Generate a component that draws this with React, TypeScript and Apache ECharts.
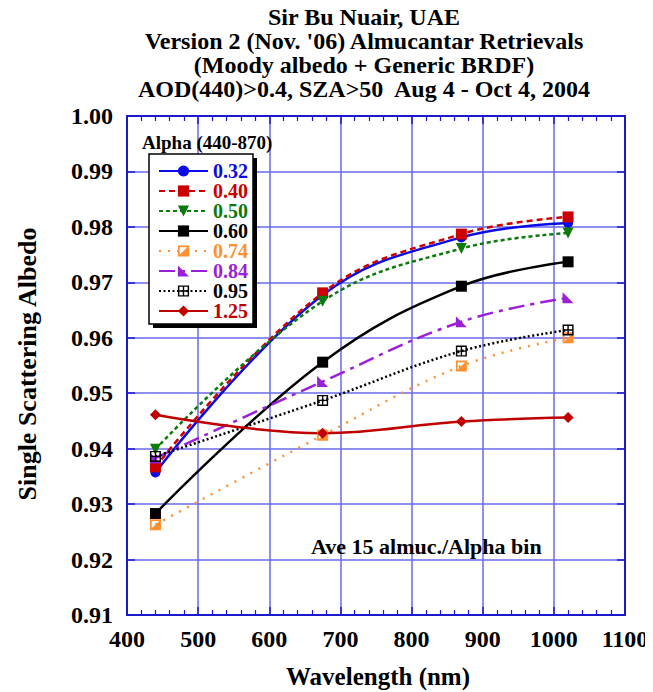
import React, { useEffect, useRef } from "react";
import * as echarts from "echarts";

const wavelengths = [440, 675, 870, 1020];
const alphaNames = ["0.32", "0.40", "0.50", "0.60", "0.74", "0.84", "0.95", "1.25"];
const ssa032 = [0.9357, 0.9677, 0.9781, 0.9807];
const ssa040 = [0.9367, 0.9681, 0.9787, 0.9818];
const ssa050 = [0.9399, 0.9666, 0.9761, 0.9789];
const ssa060 = [0.9283, 0.9556, 0.9693, 0.9737];
const ssa074 = [0.9263, 0.9424, 0.9549, 0.96];
const ssa084 = [0.9383, 0.9521, 0.9629, 0.9672];
const ssa095 = [0.9386, 0.9487, 0.9576, 0.9614];
const ssa125 = [0.9461, 0.9428, 0.9449, 0.9456];
const xTicks = [400, 500, 600, 700, 800, 900, 1000, 1100];
const yTicks = [0.91, 0.92, 0.93, 0.94, 0.95, 0.96, 0.97, 0.98, 0.99, 1.0];

const FONT = "Liberation Serif";

const halfSquare =
  "path://M0,0 L10,0 L10,10 L0,10 Z M1.6,1.6 L1.6,8.4 L8.4,8.4 L8.4,1.6 Z M8.4,1.6 L8.4,8.4 L1.6,8.4 Z";
const crossSquare =
  "path://M0,0 L10,0 L10,10 L0,10 Z M1.3,1.3 L1.3,8.7 L8.7,8.7 L8.7,1.3 Z M4.4,1 L5.6,1 L5.6,9 L4.4,9 Z M1,4.4 L9,4.4 L9,5.6 L1,5.6 Z";
const cornerTri = "path://M0,0 L10,10 L0,10 Z";

const seriesDefs = [
  { name: alphaNames[0], data: ssa032, color: "#0a0ae6", type: "solid", symbol: "circle", size: 10 },
  { name: alphaNames[1], data: ssa040, color: "#cc0000", type: [6, 4], symbol: "rect", size: 11 },
  { name: alphaNames[2], data: ssa050, color: "#0b7a0b", type: [4, 3], symbol: "triangle", size: 11, rotate: 180 },
  { name: alphaNames[3], data: ssa060, color: "#000000", type: "solid", symbol: "rect", size: 11 },
  { name: alphaNames[4], data: ssa074, color: "#ff9030", type: [2, 7], symbol: halfSquare, size: 11 },
  { name: alphaNames[5], data: ssa084, color: "#9a1fd8", type: [16, 6, 4, 6], symbol: cornerTri, size: 11 },
  { name: alphaNames[6], data: ssa095, color: "#000000", type: [2, 2.5], symbol: crossSquare, size: 11 },
  { name: alphaNames[7], data: ssa125, color: "#c00000", type: "solid", symbol: "diamond", size: 11 },
];

export default function App() {
  const ref = useRef<HTMLDivElement>(null);
  useEffect(() => {
    if (!ref.current) return;
    const chart = echarts.init(ref.current, null, { renderer: "svg" });
    const gridColor = "#6a6aea";
    const frameColor = "#1a1acc";
    const labelStyle = { fontFamily: FONT, fontWeight: "bold", fontSize: 24, color: "#000" };
    const option: any = {
      animation: false,
      backgroundColor: "#fff",
      title: {
        text:
          "Sir Bu Nuair, UAE\nVersion 2 (Nov. '06) Almucantar Retrievals\n(Moody albedo + Generic BRDF)\nAOD(440)>0.4, SZA>50  Aug 4 - Oct 4, 2004",
        left: 364,
        top: 5,
        textAlign: "center",
        padding: 0,
        textStyle: { fontFamily: FONT, fontWeight: "bold", fontSize: 24, lineHeight: 24, color: "#000" },
      },
      grid: { left: 127, right: 28, top: 116, bottom: 77, containLabel: false },
      xAxis: [
        {
          type: "value",
          min: xTicks[0],
          max: xTicks[xTicks.length - 1],
          interval: 100,
          position: "bottom",
          axisLine: { show: true, lineStyle: { color: frameColor, width: 2 } },
          axisTick: { show: true, inside: true, length: 8, lineStyle: { color: frameColor, width: 1.5 } },
          minorTick: { show: true, splitNumber: 5, length: 5, lineStyle: { color: frameColor, width: 1.2 } },
          splitLine: { show: true, lineStyle: { color: gridColor, width: 1.5 } },
          axisLabel: { ...labelStyle, margin: 12, formatter: (v: number) => String(v) },
        },
        {
          type: "value",
          min: xTicks[0],
          max: xTicks[xTicks.length - 1],
          interval: 100,
          position: "top",
          axisLine: { show: true, lineStyle: { color: frameColor, width: 2 } },
          axisTick: { show: true, inside: true, length: 8, lineStyle: { color: frameColor, width: 1.5 } },
          minorTick: { show: true, splitNumber: 5, length: 5, lineStyle: { color: frameColor, width: 1.2 } },
          splitLine: { show: false },
          axisLabel: { show: false },
        },
      ],
      yAxis: [
        {
          type: "value",
          min: yTicks[0],
          max: yTicks[yTicks.length - 1],
          interval: 0.01,
          position: "left",
          axisLine: { show: true, lineStyle: { color: frameColor, width: 2 } },
          axisTick: { show: true, inside: true, length: 8, lineStyle: { color: frameColor, width: 1.5 } },
          splitLine: { show: true, lineStyle: { color: gridColor, width: 1.5 } },
          axisLabel: { ...labelStyle, margin: 14, formatter: (v: number) => v.toFixed(2) },
        },
        {
          type: "value",
          min: yTicks[0],
          max: yTicks[yTicks.length - 1],
          interval: 0.01,
          position: "right",
          axisLine: { show: true, lineStyle: { color: frameColor, width: 2 } },
          axisTick: { show: true, inside: true, length: 8, lineStyle: { color: frameColor, width: 1.5 } },
          splitLine: { show: false },
          axisLabel: { show: false },
        },
      ],
      legend: {
        orient: "vertical",
        left: 158,
        top: 161,
        padding: 0,
        itemWidth: 49,
        itemHeight: 14,
        itemGap: 0,
        z: 20,
        selectedMode: false,
        data: seriesDefs.map((s) => ({
          name: s.name,
          textStyle: { color: s.color },
        })),
        textStyle: { fontFamily: FONT, fontWeight: "bold", fontSize: 20, lineHeight: 19.6 },
      },
      graphic: [
        { type: "rect", z: 10, shape: { x: 153, y: 158, width: 104, height: 170 }, style: { fill: "#000" } },
        {
          type: "rect",
          z: 11,
          shape: { x: 149, y: 154, width: 104, height: 170 },
          style: { fill: "#fff", stroke: "#000", lineWidth: 1.5 },
        },
        {
          type: "text",
          z: 12,
          x: 142,
          y: 142,
          style: { text: "Alpha (440-870)", fontFamily: FONT, fontWeight: "bold", fontSize: 19, fill: "#000", verticalAlign: "middle" },
        },
        {
          type: "text",
          z: 12,
          x: 311,
          y: 546,
          style: { text: "Ave 15 almuc./Alpha bin", fontFamily: FONT, fontWeight: "bold", fontSize: 22, fill: "#000", verticalAlign: "middle" },
        },
        {
          type: "text",
          z: 12,
          x: 378,
          y: 676,
          style: { text: "Wavelength (nm)", fontFamily: FONT, fontWeight: "bold", fontSize: 25, fill: "#000", align: "center", verticalAlign: "middle" },
        },
        {
          type: "text",
          z: 12,
          x: 27,
          y: 364,
          rotation: Math.PI / 2,
          style: { text: "Single Scattering Albedo", fontFamily: FONT, fontWeight: "bold", fontSize: 26, fill: "#000", align: "center", verticalAlign: "middle" },
        },
      ],
      series: seriesDefs.map((s) => ({
        name: s.name,
        type: "line",
        smooth: 0.4,
        xAxisIndex: 0,
        yAxisIndex: 0,
        data: wavelengths.map((w, i) => [w, s.data[i]]),
        symbol: s.symbol,
        symbolSize: s.size,
        symbolRotate: (s as any).rotate || 0,
        showSymbol: true,
        color: s.color,
        itemStyle: { color: s.color },
        lineStyle: { color: s.color, width: 2.5, type: s.type },
        z: 3,
      })),
    };
    chart.setOption(option);
    return () => chart.dispose();
  }, []);
  return <div ref={ref} style={{ width: 653, height: 692, marginLeft: -8, marginTop: -8 }} />;
}
